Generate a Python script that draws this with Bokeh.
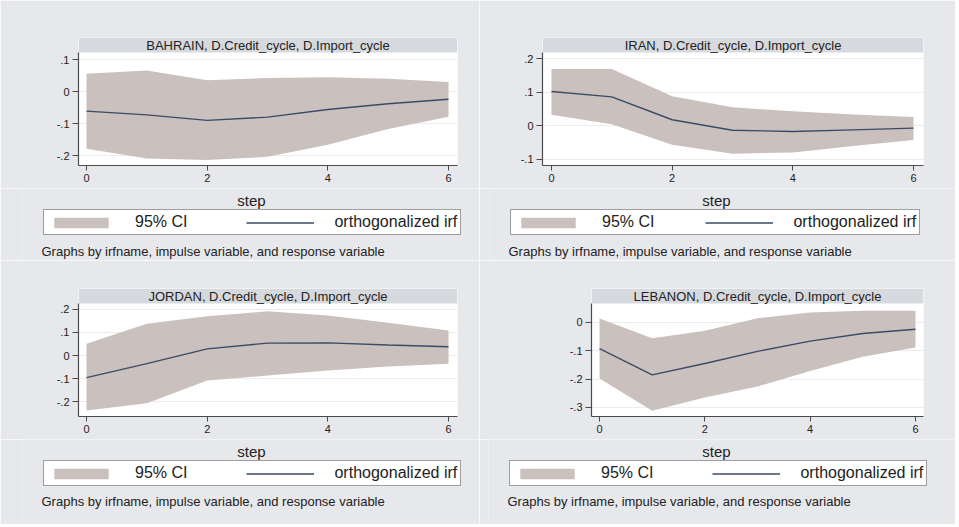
from bokeh.plotting import figure
from bokeh.layouts import row, column
from bokeh.models import FixedTicker, Legend, LegendItem, Label, Range1d, BoxAnnotation
from bokeh.embed import file_html
from bokeh.resources import INLINE

# ------------------------------------------------------------------ data
steps = [0, 1, 2, 3, 4, 5, 6]

bahrain_irf = [-0.061, -0.073, -0.090, -0.080, -0.056, -0.038, -0.024]
bahrain_upper = [0.056, 0.066, 0.035, 0.042, 0.045, 0.040, 0.030]
bahrain_lower = [-0.179, -0.209, -0.214, -0.204, -0.166, -0.117, -0.079]

iran_irf = [0.102, 0.086, 0.018, -0.013, -0.017, -0.012, -0.007]
iran_upper = [0.169, 0.169, 0.088, 0.055, 0.043, 0.034, 0.026]
iran_lower = [0.033, 0.005, -0.056, -0.083, -0.079, -0.060, -0.042]

jordan_irf = [-0.096, -0.035, 0.029, 0.054, 0.055, 0.046, 0.038]
jordan_upper = [0.051, 0.138, 0.171, 0.192, 0.174, 0.142, 0.109]
jordan_lower = [-0.239, -0.207, -0.109, -0.087, -0.065, -0.048, -0.036]

lebanon_irf = [-0.092, -0.185, -0.145, -0.102, -0.066, -0.039, -0.024]
lebanon_upper = [0.014, -0.056, -0.029, 0.015, 0.035, 0.041, 0.041]
lebanon_lower = [-0.198, -0.312, -0.265, -0.226, -0.171, -0.121, -0.088]

x_ticks = [0, 2, 4, 6]
x_tick_labels = ["0", "2", "4", "6"]

bahrain_yticks = [-0.2, -0.1, 0, 0.1]
bahrain_ytick_labels = ["-.2", "-.1", "0", ".1"]
iran_yticks = [-0.1, 0, 0.1, 0.2]
iran_ytick_labels = ["-.1", "0", ".1", ".2"]
jordan_yticks = [-0.2, -0.1, 0, 0.1, 0.2]
jordan_ytick_labels = ["-.2", "-.1", "0", ".1", ".2"]
lebanon_yticks = [-0.3, -0.2, -0.1, 0]
lebanon_ytick_labels = ["-.3", "-.2", "-.1", "0"]

panel_titles = [
    "BAHRAIN, D.Credit_cycle, D.Import_cycle",
    "IRAN, D.Credit_cycle, D.Import_cycle",
    "JORDAN, D.Credit_cycle, D.Import_cycle",
    "LEBANON, D.Credit_cycle, D.Import_cycle",
]
legend_labels = ["95% CI", "orthogonalized irf"]
x_axis_title = "step"
note_text = "Graphs by irfname, impulse variable, and response variable"

# ------------------------------------------------------------------ style
FONT = "Liberation Sans"
BG = "#e7e8ec"
BAR = "#d6d9de"
BAND = "#cac0bd"
LINE = "#3b4b66"
GRID = "#ececec"
AXIS = "#4a4a4a"
TXT = "#222222"

TITLE_PX = 13
LEG_PX = 16
STEP_PX = 15
NOTE_PX = 13
AXIS_BAND = 23   # height kept below each plot frame for the x tick labels

ARIAL = {" ": 278, "%": 889, "C": 722, "I": 278, "a": 556, "d": 556, "e": 556, "f": 278,
         "g": 556, "h": 556, "i": 222, "l": 222, "n": 556, "o": 556, "r": 333, "t": 278,
         "z": 500}


def text_width(s, px):
    return sum(ARIAL.get(c, 556) for c in s) / 1000.0 * px


# picture-pixel geometry of each panel (cell box, frame box, plot top,
# ranges of the plot area, legend box and text anchors)
geoms = [
    dict(ox=0, oy=0, w=479, h=260, fl=78, fr=457, ft=37, pt=52, fb=165,
         xr=(-0.133, 6.149), yr=(-0.231, 0.122),
         leg_l=43, leg_t=209, leg_w=416, step_cx=251, step_by=200, note_x=41, note_by=250.5),
    dict(ox=479, oy=0, w=476, h=260, fl=542, fr=923, ft=37, pt=52, fb=165,
         xr=(-0.149, 6.166), yr=(-0.118, 0.218),
         leg_l=510, leg_t=209, leg_w=408, step_cx=716, step_by=200, note_x=508, note_by=250.5),
    dict(ox=0, oy=260, w=479, h=264, fl=78, fr=457, ft=288, pt=303, fb=416,
         xr=(-0.133, 6.149), yr=(-0.265, 0.226),
         leg_l=43, leg_t=460, leg_w=416, step_cx=251, step_by=451, note_x=41, note_by=500.5),
    dict(ox=479, oy=260, w=476, h=264, fl=591, fr=923, ft=288, pt=303, fb=416,
         xr=(-0.153, 6.153), yr=(-0.332, 0.067),
         leg_l=509, leg_t=460, leg_w=416, step_cx=716, step_by=451, note_x=507, note_by=500.5),
]


def make_panel(title, irf, lower, upper, yticks, ylabels, g):
    x0, x1 = g["xr"]
    y0, y1 = g["yr"]
    plot_px = g["fb"] - g["pt"]
    y_top = y1 + (g["pt"] - g["ft"]) / plot_px * (y1 - y0)
    plot_h = g["fb"] + AXIS_BAND - g["oy"]

    # ---------------- plot with strip title and axes
    p = figure(width=g["w"], height=plot_h,
               x_range=Range1d(x0, x1), y_range=Range1d(y0, y_top),
               output_backend="svg", toolbar_location=None,
               min_border_left=g["fl"] - g["ox"], min_border_right=g["ox"] + g["w"] - g["fr"],
               min_border_top=g["ft"] - g["oy"], min_border_bottom=AXIS_BAND,
               background_fill_color="white", border_fill_color=BG,
               outline_line_color=None)

    p.add_layout(BoxAnnotation(bottom=y1, fill_color=BAR, fill_alpha=1, line_color=None,
                               level="underlay"))

    xa = p.xaxis[0]
    xa.ticker = FixedTicker(ticks=x_ticks)
    xa.major_label_overrides = dict(zip(x_ticks, x_tick_labels))
    ya = p.yaxis[0]
    ya.ticker = FixedTicker(ticks=yticks)
    ya.major_label_overrides = dict(zip(yticks, ylabels))
    ya.bounds = (y0, y1)
    for ax, tout in ((xa, 5), (ya, 6)):
        ax.axis_line_color = AXIS
        ax.axis_line_width = 1.2
        ax.major_tick_line_color = AXIS
        ax.major_tick_out = tout
        ax.major_tick_in = 0
        ax.minor_tick_line_color = None
        ax.major_label_text_font = FONT
        ax.major_label_text_font_size = "11px"
        ax.major_label_text_color = TXT
        ax.major_label_standoff = 3
    ya.major_label_orientation = "horizontal"

    p.xgrid.visible = False
    p.ygrid.ticker = FixedTicker(ticks=yticks)
    p.ygrid.grid_line_color = GRID
    p.ygrid.grid_line_width = 1

    p.varea(x=steps, y1=lower, y2=upper, fill_color=BAND, fill_alpha=1)
    p.line(steps, irf, line_color=LINE, line_width=1.4)

    bar_mid = y1 + (g["pt"] - g["ft"]) / 2 / plot_px * (y1 - y0)
    p.add_layout(Label(x=(x0 + x1) / 2, y=bar_mid, text=title,
                       text_align="center", text_baseline="middle",
                       text_font=FONT, text_font_size=f"{TITLE_PX}px", text_color=TXT))

    # ---------------- footer: axis title, legend, note
    foot_top = g["fb"] + AXIS_BAND
    foot_h = g["oy"] + g["h"] - foot_top
    m = g["leg_t"] - foot_top
    L = g["leg_l"] - g["ox"] - m
    f = figure(width=g["w"], height=foot_h,
               x_range=Range1d(L, g["w"]), y_range=Range1d(foot_h, 0),
               x_axis_type=None, y_axis_type=None,
               output_backend="svg", toolbar_location=None,
               min_border_left=L, min_border_right=0, min_border_top=0, min_border_bottom=0,
               background_fill_color=BG, border_fill_color=BG, outline_line_color=None)
    # legend sample renderers (they fall outside this footer's frame)
    band_s = f.varea(x=steps, y1=lower, y2=upper, fill_color=BAND, fill_alpha=1)
    line_s = f.line(steps, irf, line_color=LINE, line_width=1.4)

    f.add_layout(Label(x=g["step_cx"] - g["ox"], y=g["step_by"] - foot_top, text=x_axis_title,
                       text_align="center", text_baseline="alphabetic",
                       text_font=FONT, text_font_size=f"{STEP_PX}px", text_color=TXT))
    f.add_layout(Label(x=g["note_x"] - g["ox"], y=g["note_by"] - foot_top, text=note_text,
                       text_align="left", text_baseline="alphabetic",
                       text_font=FONT, text_font_size=f"{NOTE_PX}px", text_color=TXT))

    pad, gw, so = 3, 68, 20
    inner = 2 * pad + 2 * gw + 2 * so + sum(text_width(s, LEG_PX) for s in legend_labels)
    spacing = max(0, int(round(g["leg_w"] - inner)))
    leg = Legend(items=[LegendItem(label=legend_labels[0], renderers=[band_s]),
                        LegendItem(label=legend_labels[1], renderers=[line_s])],
                 orientation="horizontal", location="top_left", margin=m,
                 padding=pad, spacing=spacing, glyph_width=gw, glyph_height=13,
                 label_standoff=so, label_height=13,
                 label_text_font=FONT, label_text_font_size=f"{LEG_PX}px",
                 label_text_color=TXT,
                 border_line_color="#3d3d3d", border_line_width=1.5,
                 background_fill_color="white", background_fill_alpha=1)
    f.add_layout(leg)
    return column(row(p), row(f))


c1 = make_panel(panel_titles[0], bahrain_irf, bahrain_lower, bahrain_upper,
                bahrain_yticks, bahrain_ytick_labels, geoms[0])
c2 = make_panel(panel_titles[1], iran_irf, iran_lower, iran_upper,
                iran_yticks, iran_ytick_labels, geoms[1])
c3 = make_panel(panel_titles[2], jordan_irf, jordan_lower, jordan_upper,
                jordan_yticks, jordan_ytick_labels, geoms[2])
c4 = make_panel(panel_titles[3], lebanon_irf, lebanon_lower, lebanon_upper,
                lebanon_yticks, lebanon_ytick_labels, geoms[3])

layout = column(row(c1, c2), row(c3, c4))

with open("out.html", "w") as fh:
    fh.write(file_html(layout, INLINE))
